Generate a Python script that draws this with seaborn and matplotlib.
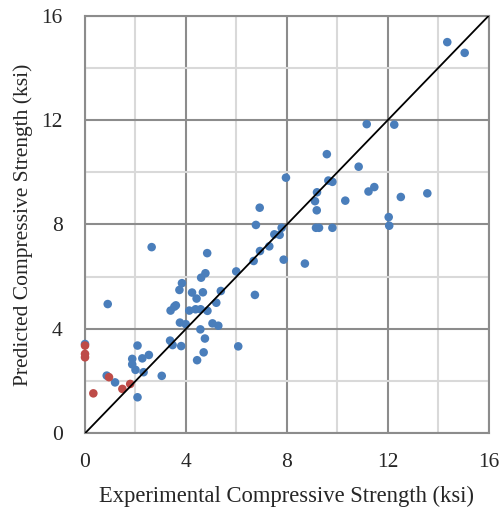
import numpy as np
import pandas as pd
import matplotlib
matplotlib.use("Agg")
import matplotlib.pyplot as plt
import seaborn as sns

# Series 1 (blue)
blue_x = [0.0, 0.86, 0.90, 1.19, 1.87, 1.87, 2.00, 2.08, 2.08, 2.27, 2.32, 2.53, 2.64, 3.04,
          3.37, 3.47, 3.39, 3.54, 3.60, 3.74, 3.84, 3.76, 3.99, 3.81, 4.13, 4.24, 4.38, 4.42,
          4.44, 4.57, 4.58, 4.60, 4.67, 4.70, 4.75, 4.77, 4.84, 4.85, 5.05, 5.20, 5.28, 5.38,
          5.99, 6.07, 6.68, 6.73, 6.77, 6.92, 6.93, 7.30, 7.50, 7.71, 7.79, 7.87, 7.96, 8.71,
          9.11, 9.18, 9.19, 9.15, 9.27, 9.58, 9.64, 9.80, 9.80, 10.31, 10.84, 11.16, 11.23,
          11.46, 12.03, 12.05, 12.25, 12.51, 13.56, 14.35, 15.04]
blue_y = [3.42, 2.21, 4.95, 1.95, 2.85, 2.64, 2.43, 3.36, 1.38, 2.87, 2.34, 3.00, 7.13, 2.20,
          3.55, 3.38, 4.70, 4.85, 4.90, 5.49, 5.75, 4.24, 4.18, 3.34, 4.70, 5.39, 4.75, 5.16,
          2.80, 3.98, 4.75, 5.96, 5.40, 3.10, 3.63, 6.13, 6.90, 4.69, 4.21, 5.00, 4.12, 5.45,
          6.20, 3.33, 6.60, 5.30, 7.98, 8.64, 6.98, 7.16, 7.62, 7.60, 7.87, 6.65, 9.79, 6.50,
          8.89, 8.54, 9.23, 7.87, 7.87, 10.69, 9.68, 9.63, 7.87, 8.91, 10.21, 11.84, 9.26,
          9.43, 8.28, 7.95, 11.82, 9.05, 9.19, 14.98, 14.57]
# Series 2 (red)
red_x = [0.0, 0.0, 0.0, 0.33, 0.95, 1.48, 1.79]
red_y = [3.36, 3.04, 2.91, 1.53, 2.15, 1.70, 1.89]
# Line of equality
line_x = [0, 16]
line_y = [0, 16]

ticks = [0, 4, 8, 12, 16]
minor_ticks = [2, 6, 10, 14]

sns.set_style("white")
plt.rcParams['font.family'] = ['Liberation Serif', 'DejaVu Serif']

df = pd.DataFrame({
    "x": blue_x + red_x,
    "y": blue_y + red_y,
    "group": ["A"] * len(blue_x) + ["B"] * len(red_x),
})

fig = plt.figure(figsize=(5.03, 5.12), dpi=100)
ax = fig.add_axes([0.169, 0.1537, 0.803, 0.816])

sns.scatterplot(data=df, x="x", y="y", hue="group",
                palette={"A": "#4A7EBB", "B": "#BE4B48"},
                s=38, linewidth=0, legend=False, ax=ax, zorder=3, clip_on=False)
sns.lineplot(x=line_x, y=line_y, color="black", linewidth=1.3, ax=ax, zorder=4)

ax.set_xlim(0, 16)
ax.set_ylim(0, 16)
ax.set_xticks(ticks)
ax.set_yticks(ticks)
ax.set_xticks(minor_ticks, minor=True)
ax.set_yticks(minor_ticks, minor=True)
ax.set_xticklabels([str(t) for t in ticks])
ax.set_yticklabels([str(t) for t in ticks])
ax.grid(which="minor", color="#d9d9d9", linewidth=1.5, zorder=0)
ax.grid(which="major", color="#8c8c8c", linewidth=1.5, zorder=1)
ax.set_axisbelow(True)
for sp in ax.spines.values():
    sp.set_color("#8c8c8c")
    sp.set_linewidth(1.5)
ax.tick_params(which="major", direction="out", length=5, width=1.5, color="#8c8c8c",
               labelsize=15.5, labelcolor="#262626")
ax.tick_params(axis="x", which="major", pad=9)
ax.tick_params(axis="y", which="major", pad=11)
ax.tick_params(which="minor", length=0)
ax.set_xlabel("Experimental Compressive Strength (ksi)", fontsize=16.3, color="#262626", labelpad=10)
ax.set_ylabel("Predicted Compressive Strength (ksi)", fontsize=15.5, color="#262626", labelpad=6)

fig.savefig("out.png", dpi=100)
